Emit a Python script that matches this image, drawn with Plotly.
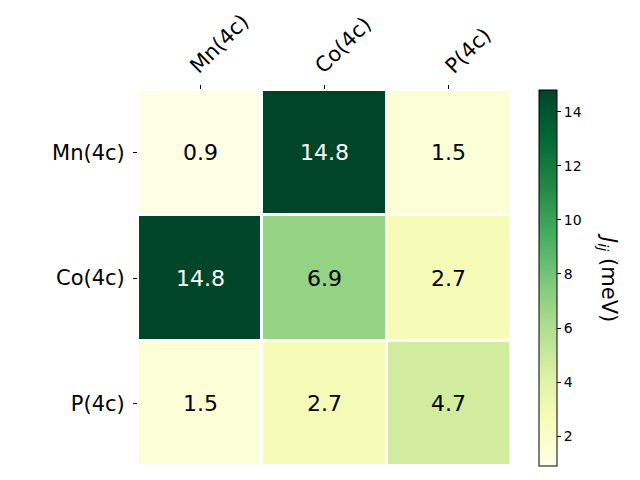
import plotly.graph_objects as go

labels = ["Mn(4c)", "Co(4c)", "P(4c)"]
values = [
    [0.9, 14.8, 1.5],
    [14.8, 6.9, 2.7],
    [1.5, 2.7, 4.7],
]
zmin, zmax = 0.9, 14.8
cbar_ticks = [2, 4, 6, 8, 10, 12, 14]

fig = go.Figure()
fig.add_trace(go.Heatmap(
    z=values, x=labels, y=labels,
    colorscale="YlGn", zmin=zmin, zmax=zmax,
    xgap=3, ygap=3,
    colorbar=dict(
        x=1.075, xanchor="left", xref="paper", xpad=0, ypad=0,
        y=0.5, yanchor="middle", len=1.0, lenmode="fraction",
        thickness=18, outlinecolor="black", outlinewidth=1,
        tickvals=cbar_ticks, ticks="outside", ticklen=4, tickcolor="black",
        tickfont=dict(family="DejaVu Sans", size=14, color="black"),
        title=dict(text=""),
    ),
    hoverinfo="skip",
))

annotations = []
for i, row in enumerate(values):
    for j, v in enumerate(row):
        annotations.append(dict(
            x=labels[j], y=labels[i], text=f"{v:.1f}", showarrow=False,
            font=dict(family="DejaVu Sans", size=22,
                      color="white" if v > 10 else "black"),
        ))
# top (rotated) column labels
for lab in labels:
    annotations.append(dict(
        x=lab, xref="x", y=1, yref="paper", text=lab, textangle=-45,
        showarrow=False, xanchor="center", yanchor="bottom",
        xshift=19, yshift=9,
        font=dict(family="DejaVu Sans", size=21, color="black"),
    ))
annotations.append(dict(
    xref="paper", yref="paper", x=1.26, y=0.5,
    text="<i>J</i><sub><i>ij</i></sub> (meV)", textangle=90, showarrow=False,
    font=dict(family="DejaVu Sans", size=21, color="black"),
    xanchor="center", yanchor="middle",
))

fig.update_layout(
    width=640, height=480,
    margin=dict(l=130, r=137, t=82, b=22, autoexpand=False),
    paper_bgcolor="white", plot_bgcolor="white",
    annotations=annotations,
    xaxis=dict(side="top", ticks="outside", ticklen=4, showticklabels=False,
               tickcolor="black", showgrid=False, zeroline=False),
    yaxis=dict(autorange="reversed", ticks="outside", ticklen=4,
               tickcolor="black", showgrid=False, zeroline=False,
               ticklabelstandoff=4,
               tickfont=dict(family="DejaVu Sans", size=21, color="black")),
)

fig.write_html("out.html")
